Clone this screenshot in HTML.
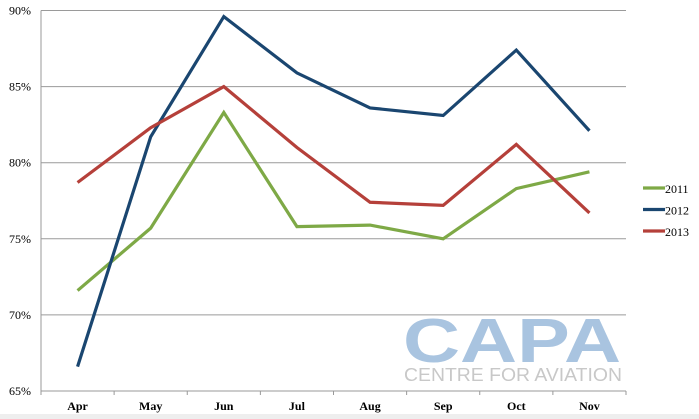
<!DOCTYPE html>
<html><head><meta charset="utf-8"><style>
body{margin:0;background:#fff;width:699px;height:419px;overflow:hidden}
svg{display:block}
text{font-family:"Liberation Serif",serif}
</style></head><body>
<svg width="699" height="419">
<rect x="0" y="414" width="699" height="5" fill="#eeeeee"/>
<g id="grid"></g>
<g>
<text x="512" y="362" text-anchor="middle" font-family="Liberation Sans" font-weight="bold" font-size="62" fill="#a9c4e0" style="font-family:'Liberation Sans',sans-serif" textLength="218" lengthAdjust="spacingAndGlyphs">CAPA</text>
<text x="513" y="381" text-anchor="middle" font-size="18" fill="#c8c8c8" style="font-family:'Liberation Sans',sans-serif" textLength="218" lengthAdjust="spacingAndGlyphs">CENTRE FOR AVIATION</text>
</g>
<g id="series"></g>
<g id="legend"></g>
</svg>
<script>
const categories=["Apr","May","Jun","Jul","Aug","Sep","Oct","Nov"];
const s2011=[71.6,75.7,83.3,75.8,75.9,75.0,78.3,79.4];
const s2012=[66.6,81.7,89.6,85.9,83.6,83.1,87.4,82.1];
const s2013=[78.7,82.3,85.0,81.0,77.4,77.2,81.2,76.7];
const yTicks=[65,70,75,80,85,90];
const seriesNames=["2011","2012","2013"];
const NS="http://www.w3.org/2000/svg";
const x0=41,x1=626,yTop=10.5,yBot=391,vMin=65,vMax=90;
const bw=(x1-x0)/categories.length;
function xs(i){return x0+bw*(i+0.5);}
function ys(v){return yBot-(v-vMin)/(vMax-vMin)*(yBot-yTop);}
function mk(t,a,p){const e=document.createElementNS(NS,t);for(const k in a)e.setAttribute(k,a[k]);p.appendChild(e);return e;}
const g=document.getElementById('grid');
yTicks.forEach(v=>{
 if(v>vMin){const l=mk('line',{x1:x0,x2:x1,y1:ys(v),y2:ys(v),stroke:'#9a9a9a','stroke-width':1},g);
 
 }
 const t=mk('text',{x:31,y:ys(v)+4,'text-anchor':'end','font-size':12,fill:'#000'},g);
 t.textContent=v+'%';
 
 
});
const ax=mk('line',{x1:x0,x2:x0,y1:yTop,y2:yBot,stroke:'#999','stroke-width':1},g);


const bx=mk('line',{x1:x0,x2:x1,y1:yBot,y2:yBot,stroke:'#999','stroke-width':1},g);


for(let i=0;i<=categories.length;i++){const tk=mk('line',{x1:x0+bw*i,x2:x0+bw*i,y1:yBot,y2:yBot+4,stroke:'#999'},g);

}
categories.forEach((c,i)=>{const t=mk('text',{x:xs(i),y:410,'text-anchor':'middle','font-size':12,'font-weight':'bold',fill:'#000'},g);
t.textContent=c;

});
const sg=document.getElementById('series');
const colors=['#7ea946','#1a4670','#b5403a'];
[s2011,s2012,s2013].forEach((d,k)=>{
 const p=mk('polyline',{points:d.map((v,i)=>xs(i)+','+ys(v)).join(' '),fill:'none',stroke:colors[k],'stroke-width':3.2,'stroke-linejoin':'miter'},sg);
 
 
});
const lg=document.getElementById('legend');
seriesNames.forEach((n,k)=>{
 const y=188+k*21.5;
 const l=mk('line',{x1:643,x2:665,y1:y,y2:y,stroke:colors[k],'stroke-width':3.2},lg);
 
 
 const t=mk('text',{x:665,y:y+5,'font-size':12,fill:'#000'},lg);
 t.textContent=n;
 
 
});
</script>
</body></html>
